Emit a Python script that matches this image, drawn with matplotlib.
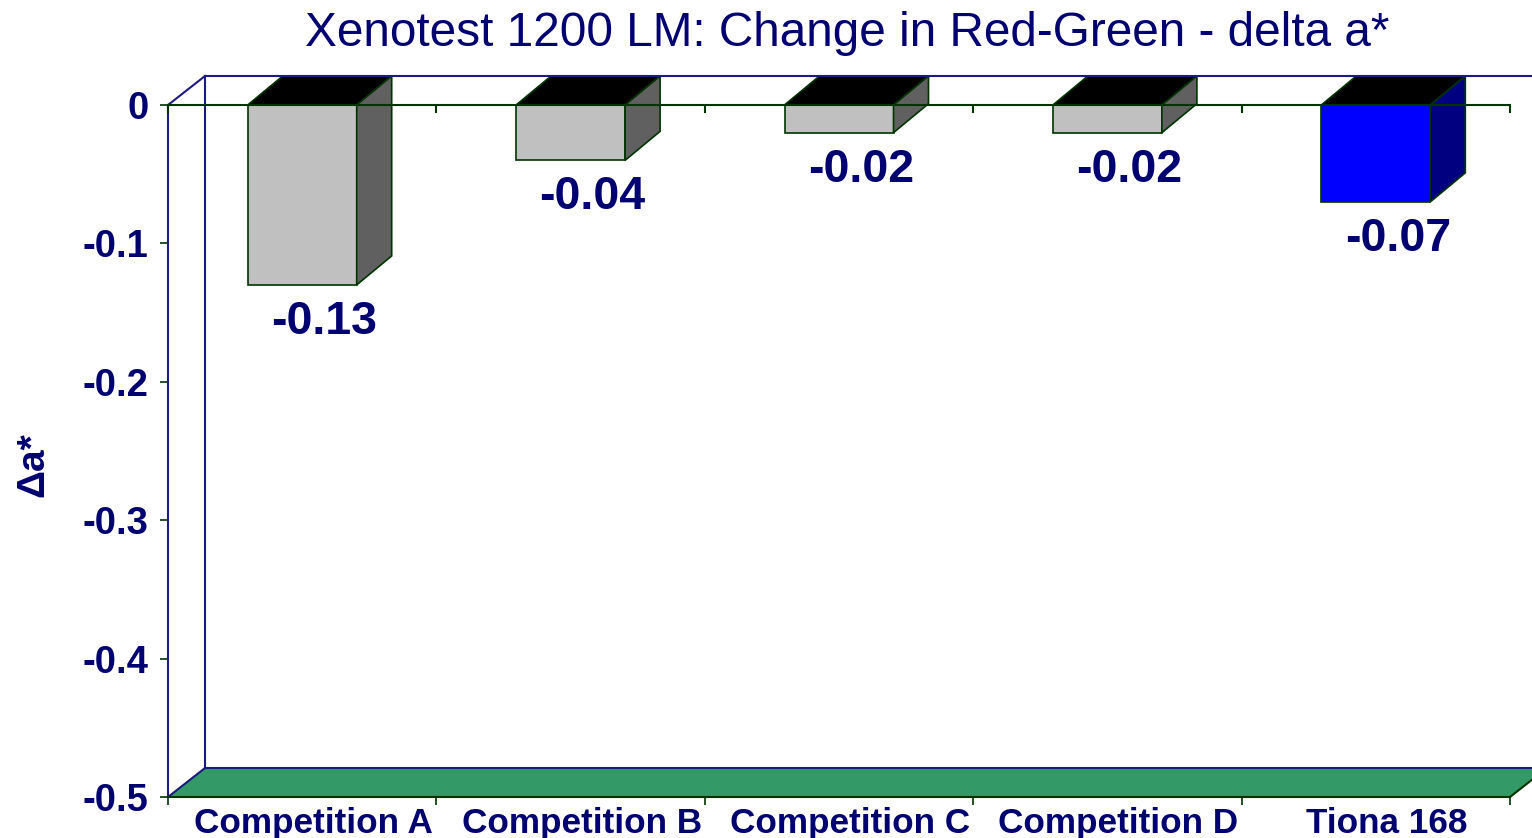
import matplotlib
matplotlib.use("Agg")
import matplotlib.pyplot as plt
from matplotlib.patches import Polygon
from matplotlib.transforms import offset_copy

plt.rcParams['font.family'] = ['Liberation Sans', 'DejaVu Sans']

categories = ['Competition A', 'Competition B', 'Competition C', 'Competition D', 'Tiona 168']
values = [-0.13, -0.04, -0.02, -0.02, -0.07]
face_colors = ['#c0c0c0', '#c0c0c0', '#c0c0c0', '#c0c0c0', '#0000ff']
side_colors = ['#606060', '#606060', '#606060', '#606060', '#000080']
yticks = [0, -0.1, -0.2, -0.3, -0.4, -0.5]
ytick_labels = ['0', '-0.1', '-0.2', '-0.3', '-0.4', '-0.5']

navy = '#000070'
wall = '#1a1a80'
dgreen = '#003300'
floor = '#339966'

W, H = 1532, 838
fig = plt.figure(figsize=(W / 100, H / 100), dpi=100)
ax = fig.add_axes([168 / W, 41 / H, 1342 / W, 692 / H])
n = len(categories)
ax.set_xlim(-0.5, n - 0.5)
ax.set_ylim(-0.5, 0)
for s in ax.spines.values():
    s.set_visible(False)

# depth of the fake 3d, pixels -> data units
px_x = 1342 / n
px_y = 692 / 0.5
wdx, wdy = 37 / px_x, 29 / px_y   # walls
bdx, bdy = 35 / px_x, 29 / px_y   # bars
x0, x1 = -0.5, n - 0.5
ymin = -0.5

# floor
ax.add_patch(Polygon([(x0, ymin), (x1, ymin), (x1 + wdx, ymin + wdy), (x0 + wdx, ymin + wdy)],
                     closed=True, facecolor=floor, edgecolor='none', clip_on=False, zorder=1))
ax.plot([x0 + wdx, x1 + wdx], [ymin + wdy, ymin + wdy], color=wall, lw=1.5, clip_on=False, zorder=2)
ax.plot([x0, x0 + wdx], [ymin, ymin + wdy], color=wall, lw=1.5, clip_on=False, zorder=2)
ax.plot([x1, x1 + wdx], [ymin, ymin + wdy], color=dgreen, lw=1.5, clip_on=False, zorder=2)

# walls
ax.plot([x0 + wdx, x0 + wdx], [ymin + wdy, wdy], color=wall, lw=1.5, clip_on=False, zorder=2)
ax.plot([x0, x0], [ymin, 0], color=wall, lw=1.5, clip_on=False, zorder=2)
ax.plot([x0, x0 + wdx], [0, wdy], color=wall, lw=1.5, clip_on=False, zorder=2)
ax.plot([x0 + wdx, x1 + 2 * wdx], [wdy, wdy], color=wall, lw=1.5, clip_on=False, zorder=5)

# bars
w = 109 / px_x
for i, (v, fc, sc) in enumerate(zip(values, face_colors, side_colors)):
    ax.bar(i, v, width=w, color=fc, edgecolor=dgreen, linewidth=1.2, zorder=3)
    l, r = i - w / 2, i + w / 2
    ax.add_patch(Polygon([(l, 0), (r, 0), (r + bdx, bdy), (l + bdx, bdy)],
                         closed=True, facecolor='black', edgecolor=dgreen, lw=1.2, clip_on=False, zorder=3))
    ax.add_patch(Polygon([(r, 0), (r, v), (r + bdx, v + bdy), (r + bdx, bdy)],
                         closed=True, facecolor=sc, edgecolor=dgreen, lw=1.2, clip_on=False, zorder=3))
    ax.annotate(f'{v:.2f}', xy=(i, v), xytext=(22, -15), textcoords='offset pixels',
                ha='center', va='top', fontsize=33.5, fontweight='bold', color=navy)

# zero line with ticks
ax.plot([x0, x1], [0, 0], color=dgreen, lw=1.5, clip_on=False, zorder=6)
bounds = [k - 0.5 for k in range(n + 1)]
ax.vlines(bounds, 0, -8 / px_y, color=dgreen, lw=1.5, clip_on=False, zorder=6)
ax.plot([x0, x1], [ymin, ymin], color=dgreen, lw=1.5, clip_on=False, zorder=6)

ax.set_yticks(yticks)
ax.set_yticklabels(ytick_labels)
ax.tick_params(axis='y', direction='out', length=6, width=1.2, color=dgreen, pad=8,
               labelsize=27.5, labelcolor=navy)
ax.set_xticks(range(n))
ax.set_xticklabels(categories)
ax.set_xticks(bounds, minor=True)
ax.tick_params(axis='x', which='major', length=0, pad=7.5, labelsize=25.3, labelcolor=navy)
ax.tick_params(axis='x', which='minor', direction='out', length=6, width=1.2, color=dgreen)
for t in ax.get_xticklabels() + ax.get_yticklabels():
    t.set_fontweight('bold')
# labels sit a little to the right, like the projected depth
for t in ax.get_xticklabels():
    t.set_transform(offset_copy(t.get_transform(), fig=fig, x=11, y=0, units='dots'))

fig.text(33 / W, 1 - 465 / H, 'Δa*', rotation=90, ha='center', va='center',
         fontsize=28, fontweight='bold', color=navy)
fig.text(847 / W, 1 - 34 / H, 'Xenotest 1200 LM: Change in Red-Green - delta a*',
         ha='center', va='center', fontsize=34.4, color=navy)

fig.savefig('out.png', dpi=100)
